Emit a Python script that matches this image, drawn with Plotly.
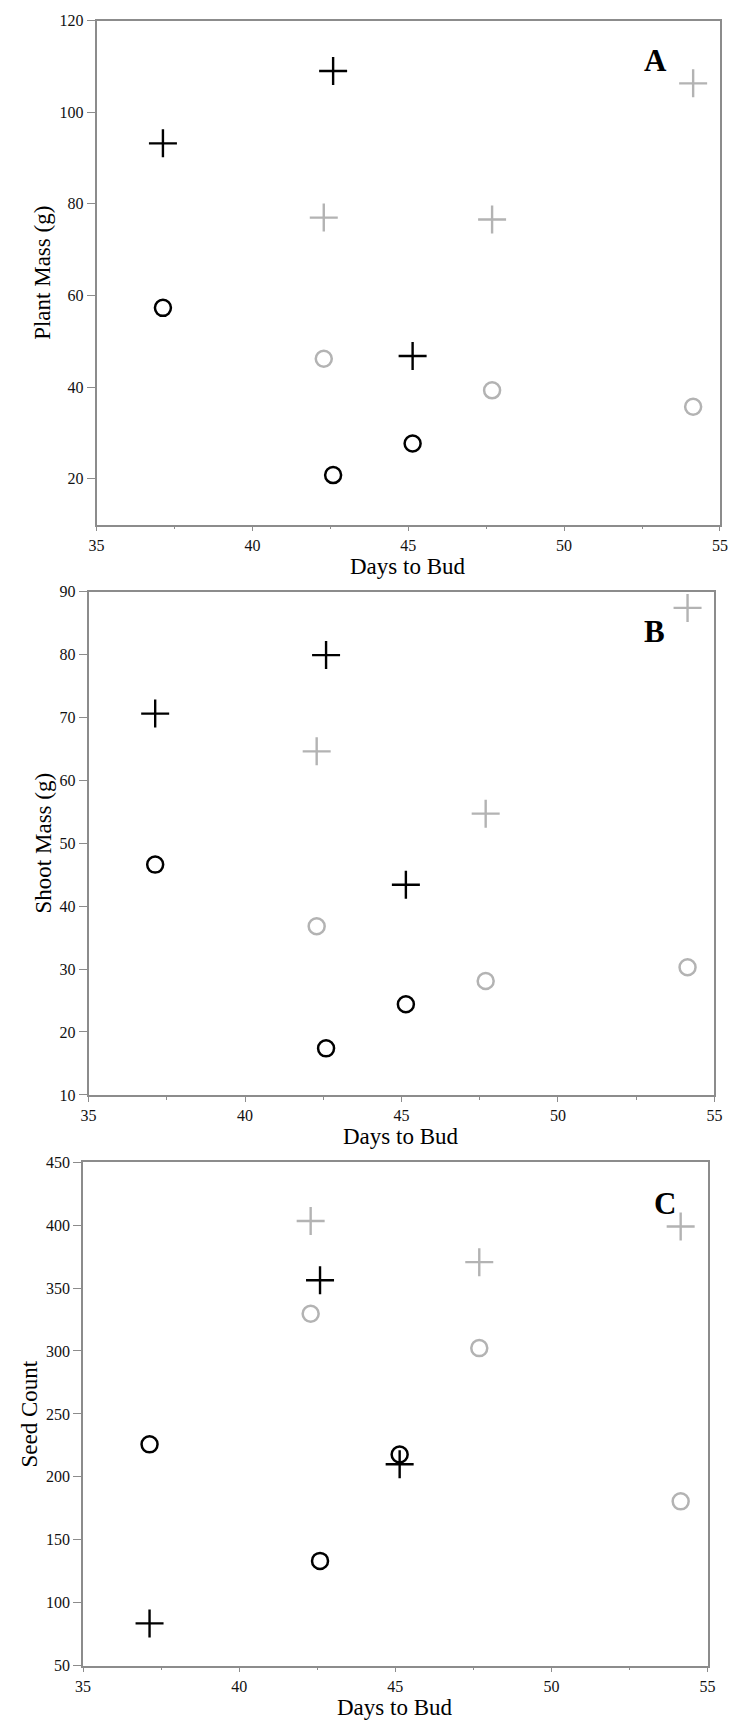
import plotly.graph_objects as go

W, H = 739, 1732

# ---------------- data ----------------
days_black = [37.13, 42.59, 45.14]
days_gray = [42.29, 47.69, 54.14]

# Panel A: Plant Mass (g)
plant_black_plus = [93.2, 109.0, 46.8]
plant_gray_plus = [77.0, 76.6, 106.3]
plant_black_circle = [57.3, 20.8, 27.7]
plant_gray_circle = [46.2, 39.3, 35.7]

# Panel B: Shoot Mass (g)
shoot_black_plus = [70.6, 79.9, 43.4]
shoot_gray_plus = [64.6, 54.7, 87.4]
shoot_black_circle = [46.6, 17.4, 24.4]
shoot_gray_circle = [36.8, 28.1, 30.3]

# Panel C: Seed Count
seed_black_plus = [83.5, 356.2, 210.0]
seed_gray_plus = [403.3, 370.6, 399.0]
seed_black_circle = [225.8, 133.2, 217.7]
seed_gray_circle = [329.6, 302.3, 180.5]

x_ticks = [35, 40, 45, 50, 55]
panel_letters = ["A", "B", "C"]
y_titles = ["Plant Mass (g)", "Shoot Mass (g)", "Seed Count"]
x_title = "Days to Bud"
y_ranges = [[10, 120], [10, 90], [50, 450]]
y_dticks = [20, 10, 50]

# ---------------- layout helpers ----------------
def px(x):
    return x / W

def py(y):
    return 1 - y / H

# plot frames in pixels: left, right, top, bottom
frames = [
    (90.5, 727.7, 12.7, 521.7),
    (82.3, 722.1, 589.3, 1097.7),
    (76.7, 715.0, 1165.7, 1674.0),
]
ytitle_x = [35, 36, 22]
letter_pos = [(661.7, 53.3), (660.9, 630.0), (671.3, 1207.4)]

BLACK = "#000000"
GRAY = "#b3b3b3"
AXIS = "#8c8c8c"
FONT = "Liberation Serif"

fig = go.Figure()

panels = [
    (plant_black_plus, plant_gray_plus, plant_black_circle, plant_gray_circle),
    (shoot_black_plus, shoot_gray_plus, shoot_black_circle, shoot_gray_circle),
    (seed_black_plus, seed_gray_plus, seed_black_circle, seed_gray_circle),
]

for i, (bp, gp, bc, gc) in enumerate(panels):
    xa = "x" if i == 0 else f"x{i+1}"
    ya = "y" if i == 0 else f"y{i+1}"
    series = [
        (days_gray, gc, "circle-open", GRAY, 16, 2.5),
        (days_gray, gp, "cross-thin-open", GRAY, 20, 2.4),
        (days_black, bc, "circle-open", BLACK, 16, 2.5),
        (days_black, bp, "cross-thin-open", BLACK, 20, 2.4),
    ]
    for xs, ys, sym, col, size, lw in series:
        fig.add_trace(go.Scatter(
            x=xs, y=ys, mode="markers", xaxis=xa, yaxis=ya, showlegend=False,
            marker=dict(symbol=sym, size=size, color=col, line=dict(color=col, width=lw)),
        ))

    left, right, top, bottom = frames[i]
    xkey = "xaxis" if i == 0 else f"xaxis{i+1}"
    ykey = "yaxis" if i == 0 else f"yaxis{i+1}"
    fig.layout[xkey] = dict(
        domain=[px(left), px(right)], range=[35, 55], anchor=ya,
        tickvals=x_ticks, ticks="outside", ticklen=5, tickwidth=1, tickcolor=AXIS,
        minor=dict(ticks="outside", ticklen=3, tickwidth=1, tickcolor=AXIS, dtick=2.5, tick0=35),
        showgrid=False, zeroline=False, showline=True, mirror=True,
        linecolor=AXIS, linewidth=1.5,
        tickfont=dict(family=FONT, size=16, color="#111111"),
    )
    fig.layout[ykey] = dict(
        domain=[py(bottom), py(top)], range=y_ranges[i], anchor=xa,
        dtick=y_dticks[i], tick0=0, ticks="outside", ticklen=8, tickwidth=1, tickcolor=AXIS,
        showgrid=False, zeroline=False, showline=True, mirror=True,
        linecolor=AXIS, linewidth=1.5,
        tickfont=dict(family=FONT, size=16, color="#111111"),
    )

    # y-axis title
    fig.add_annotation(
        x=px(ytitle_x[i]), y=py((top + bottom) / 2), xref="paper", yref="paper",
        text=y_titles[i], textangle=-90, showarrow=False,
        xanchor="center", yanchor="middle",
        font=dict(family=FONT, size=23, color="#000000"),
    )
    # x-axis title
    fig.add_annotation(
        x=px((left + right) / 2), y=py(bottom + 42), xref="paper", yref="paper",
        text=x_title, showarrow=False, xanchor="center", yanchor="middle",
        font=dict(family=FONT, size=23, color="#000000"),
    )
    # panel letter
    lx, ly = letter_pos[i]
    fig.add_annotation(
        x=px(lx), y=py(ly), xref="paper", yref="paper",
        text=f"<b>{panel_letters[i]}</b>", showarrow=False,
        xanchor="center", yanchor="middle",
        font=dict(family=FONT, size=31, color="#000000"),
    )

fig.update_layout(
    width=W, height=H, margin=dict(l=0, r=0, t=0, b=0),
    paper_bgcolor="white", plot_bgcolor="white",
    showlegend=False,
)

fig.write_html("out.html")
